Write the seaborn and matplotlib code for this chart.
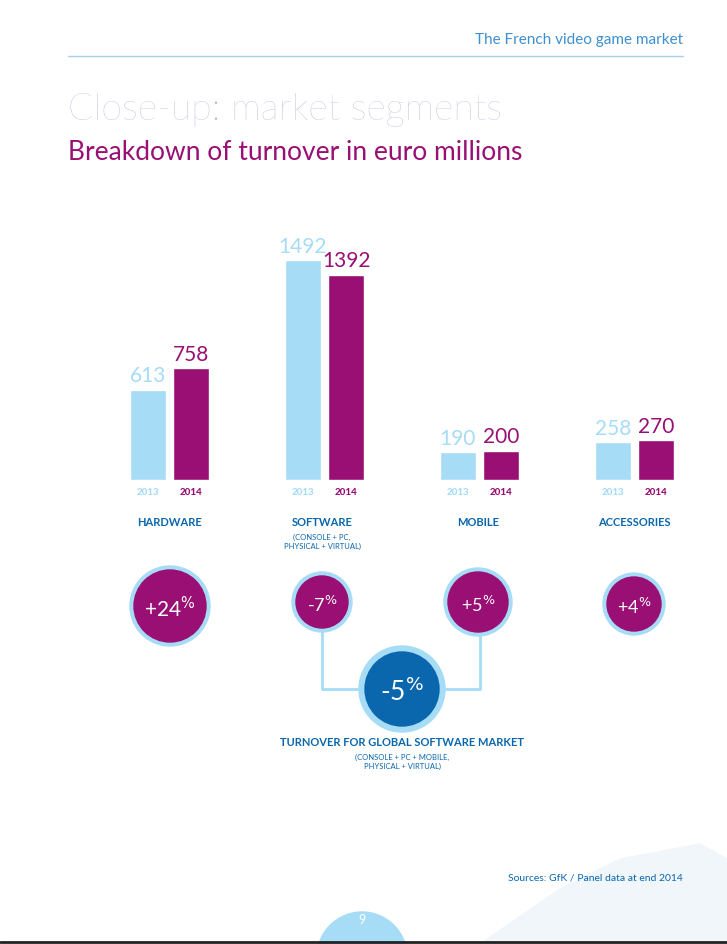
import matplotlib
matplotlib.use("Agg")
import matplotlib.pyplot as plt
import seaborn as sns
import pandas as pd
from matplotlib.patches import Circle

segments = ["HARDWARE", "SOFTWARE", "MOBILE", "ACCESSORIES"]
sublabels = ["", "(CONSOLE + PC,\nPHYSICAL + VIRTUAL)", "", ""]
years = ["2013", "2014"]
v2013 = [613, 1492, 190, 258]
v2014 = [758, 1392, 200, 270]
changes = ["+24", "-7", "+5", "+4"]
global_change = "-5"

LB = "#a6dcf6"; PU = "#990f74"; DB = "#0a66ad"
W, H = 727, 945
sns.set_theme(style="white")
plt.rcParams['font.family'] = ['Lato', 'DejaVu Sans']
fig = plt.figure(figsize=(W/100, H/100), dpi=100)

def fy(p): return 1 - p/H
def fx(p): return p/W

ax = fig.add_axes([fx(92), fy(481), fx(712)-fx(92), (481-231)/H])
df = pd.DataFrame({"seg": segments*2, "year": [years[0]]*4 + [years[1]]*4, "val": v2013 + v2014})
sns.barplot(data=df, x="seg", y="val", hue="year", palette=[LB, PU], width=0.56, gap=0.18,
            ax=ax, legend=False, saturation=1)
ax.set_ylim(0, 1695); ax.set_xlim(-0.5, 3.5)
ax.axis("off")
for cont, col in zip(ax.containers, [LB, PU]):
    for bar, v in zip(cont, cont.datavalues):
        cx = bar.get_x() + bar.get_width()/2
        ax.text(cx, v + 30, f"{int(v)}", color=col, ha="center", va="bottom", fontsize=15)
for i in range(4):
    for j, (yr, col) in enumerate(zip(years, [LB, PU])):
        b = ax.containers[j][i]
        ax.text(b.get_x()+b.get_width()/2, -50, yr, color=col, ha="center", va="top",
                fontsize=7, fontweight="black")

ov = fig.add_axes([0, 0, 1, 1]); ov.set_xlim(0, W); ov.set_ylim(H, 0); ov.axis("off")
ov.text(683, 40, "The French video game market", color="#3d8fd0", ha="right", va="center", fontsize=11)
ov.plot([68, 683], [57, 57], color="#a6d0ec", lw=1)
ov.text(68, 110, "Close-up: market segments", color="#bcb6dc", fontsize=27, fontweight="light", va="center")
ov.text(68, 152, "Breakdown of turnover in euro millions", color=PU, fontsize=19, va="center")

cx = [170, 322, 478, 634]
rs = [36, 26, 30, 27]
cy = [607, 603, 603, 605]
for i in range(4):
    ov.text(cx[i], 523, segments[i], color=DB, ha="center", va="center", fontsize=8, fontweight="bold")
    if sublabels[i]:
        ov.text(cx[i], 542, sublabels[i], color=DB, ha="center", va="center", fontsize=5.5, linespacing=1.4)
ov.plot([322, 322, 402, 480, 480], [629, 690, 690, 690, 633], color=LB, lw=2, zorder=1)
for i in range(4):
    ov.add_patch(Circle((cx[i], cy[i]), rs[i]+4, color=LB, zorder=2))
    ov.add_patch(Circle((cx[i], cy[i]), rs[i], color=PU, zorder=3))
    fs = 15 if i == 0 else 13
    ov.text(cx[i], cy[i]+2, changes[i] + r"$^{\%}$", color="white", ha="center", va="center",
            fontsize=fs, zorder=4)
ov.add_patch(Circle((402, 690), 43, color=LB, zorder=2))
ov.add_patch(Circle((402, 690), 37, color=DB, zorder=3))
ov.text(402, 692, global_change + r"$^{\%}$", color="white", ha="center", va="center", fontsize=19, zorder=4)
ov.text(402, 743, "TURNOVER FOR GLOBAL SOFTWARE MARKET", color=DB, ha="center", va="center",
        fontsize=8, fontweight="bold")
ov.text(402, 762, "(CONSOLE + PC + MOBILE,\nPHYSICAL + VIRTUAL)", color=DB, ha="center", va="center",
        fontsize=5.5, linespacing=1.4)
ov.text(683, 878, "Sources: GfK / Panel data at end 2014", color=DB, ha="right", va="center", fontsize=7.5)
ov.fill([480, 560, 620, 700, 727, 727, 480], [945, 890, 860, 845, 860, 945, 945], color="#f1f6fa", zorder=0)
ov.add_patch(Circle((362, 958), 45, color=LB, zorder=2))
ov.text(362, 920, "9", color="white", ha="center", va="center", fontsize=9, zorder=3)
ov.plot([0, W], [943, 943], color="#222222", lw=2)

fig.savefig("out.png", dpi=100)
